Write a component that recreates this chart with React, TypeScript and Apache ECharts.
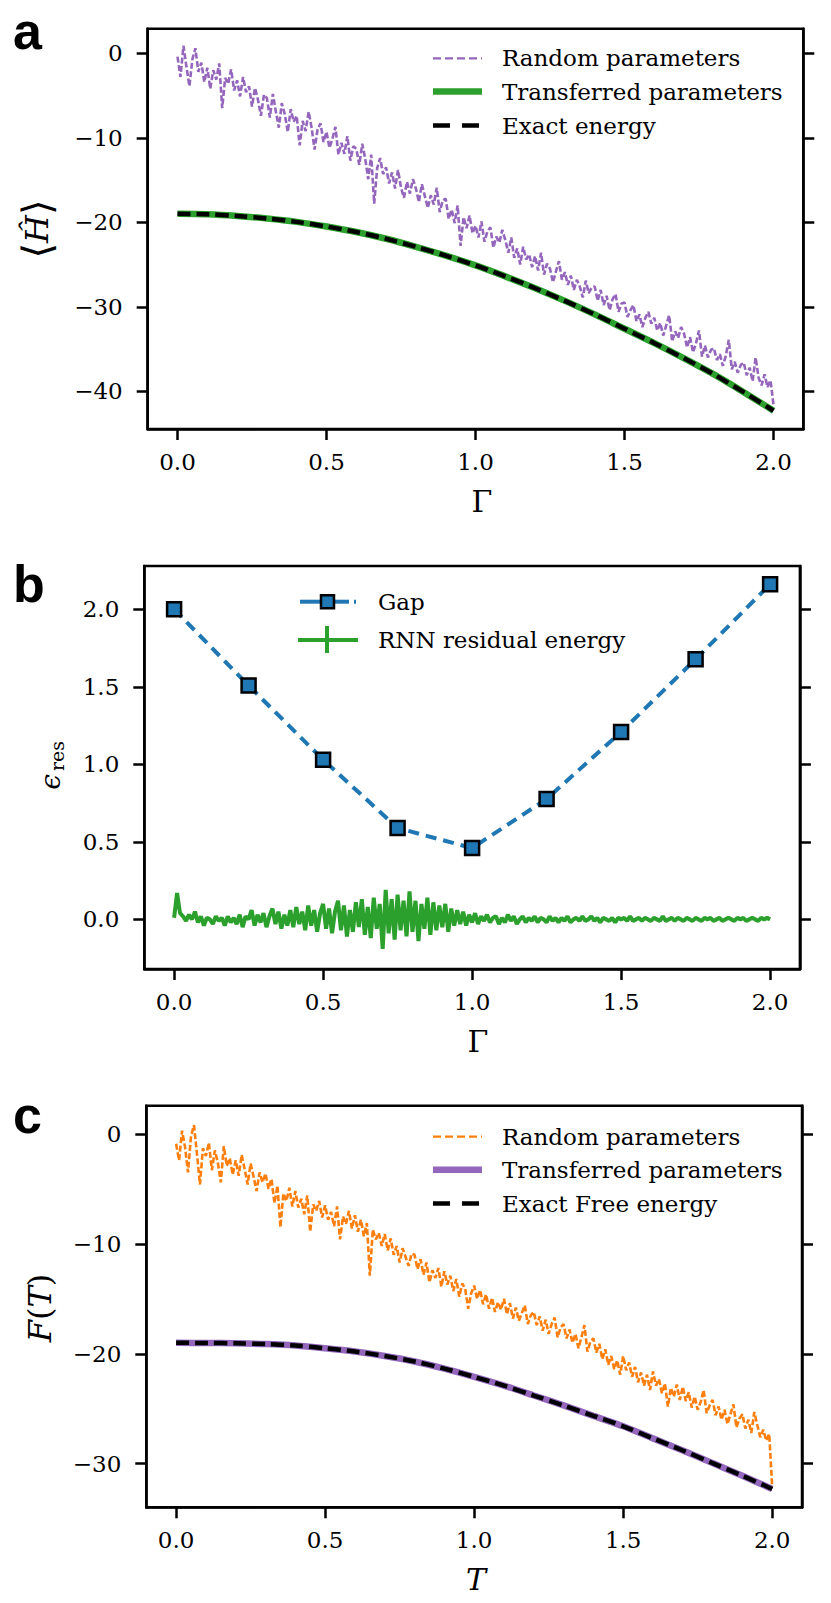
import React, { useEffect, useRef } from "react";
import * as echarts from "echarts";

// ---------- DATA ----------
const gammaCoarse = [0, 0.1, 0.2, 0.3, 0.4, 0.5, 0.6, 0.7, 0.8, 0.9, 1.0, 1.1, 1.2, 1.3, 1.4, 1.5, 1.6, 1.7, 1.8, 1.9, 2.0];

// panel a: random parameters (Γ = 0.00 … 2.00, step 0.01)
const randomA = [
  -0.4, -2.8, 0.9, -1.6, -3.9, -0.7, 0.6, -2.2, -1.1, -3.4,
  -1.7, -4.2, -2.0, -3.1, -1.2, -6.5, -2.9, -3.6, -1.9, -4.4,
  -3.2, -5.1, -2.8, -4.6, -3.9, -6.3, -4.1, -5.5, -7.4, -4.9,
  -5.3, -7.6, -4.8, -6.9, -8.8, -5.9, -7.2, -9.3, -6.6, -8.1,
  -7.4, -10.9, -8.0, -9.2, -6.9, -8.8, -11.4, -9.0, -8.3, -10.5,
  -9.3, -11.2, -10.1, -8.7, -12.0, -10.6, -11.9, -9.8, -12.7, -11.0,
  -11.3, -13.2, -10.7, -12.5, -14.9, -12.0, -17.8, -13.6, -12.4, -14.3,
  -13.5, -15.4, -14.1, -16.0, -13.8, -15.9, -17.1, -15.2, -16.6, -14.9,
  -16.0, -17.6, -15.5, -16.9, -18.3, -16.8, -17.9, -15.9, -18.8, -17.4,
  -17.2, -19.6, -18.5, -20.1, -18.0, -22.8, -19.4, -20.7, -19.2, -21.3,
  -20.4, -21.8, -19.9, -22.3, -21.1, -20.6, -23.0, -21.7, -22.4, -20.9,
  -22.1, -23.6, -21.8, -24.2, -23.1, -25.0, -22.9, -24.4, -23.8, -25.3,
  -24.0, -25.7, -23.6, -26.2, -24.9, -25.5, -27.1, -25.8, -24.6, -26.8,
  -25.9, -27.4, -26.3, -28.0, -26.8, -27.6, -28.9, -26.9, -28.4, -27.7,
  -27.6, -29.3, -28.0, -29.8, -28.7, -30.4, -29.1, -28.5, -30.6, -29.6,
  -29.5, -31.2, -30.4, -29.8, -31.7, -30.9, -32.4, -31.3, -30.6, -32.0,
  -31.3, -32.8, -31.9, -33.4, -32.2, -31.0, -34.1, -32.9, -33.7, -32.4,
  -33.2, -34.8, -33.6, -35.4, -34.3, -32.8, -35.9, -34.6, -36.0, -35.1,
  -34.9, -36.3, -35.6, -37.0, -35.8, -33.9, -37.4, -36.5, -37.8, -36.9,
  -36.6, -38.1, -37.2, -38.8, -36.0, -38.4, -39.3, -38.0, -39.5, -38.7,
  -41.6,
];
const transferredA = [-19.0, -19.05, -19.25, -19.55, -19.95, -20.5, -21.15, -21.95, -22.9, -23.95, -25.1, -26.4, -27.8, -29.3, -30.9, -32.6, -34.3, -36.1, -38.0, -40.1, -42.3];
const exactA = [-19.0, -19.05, -19.25, -19.55, -19.95, -20.5, -21.15, -21.95, -22.9, -23.95, -25.1, -26.4, -27.8, -29.3, -30.9, -32.6, -34.3, -36.1, -38.0, -40.1, -42.3];

// panel b
const gapGamma = [0, 0.25, 0.5, 0.75, 1.0, 1.25, 1.5, 1.75, 2.0];
const gapValues = [2.0, 1.508, 1.03, 0.589, 0.46, 0.776, 1.209, 1.678, 2.161];
const rnnResidual = [
  0.01, 0.17, 0.04, 0.02, -0.01, 0.03, 0.0, 0.05, -0.02, 0.02,
  -0.04, 0.01, 0.0, -0.03, 0.02, -0.01, 0.01, -0.04, 0.02, -0.02,
  0.01, -0.03, 0.03, -0.05, 0.02, 0.0, 0.06, -0.04, 0.03, -0.02,
  0.04, -0.05, 0.02, 0.07, -0.03, 0.05, -0.06, 0.03, -0.04, 0.06,
  -0.05, 0.08, -0.03, 0.05, -0.07, 0.09, -0.04, 0.06, -0.08, 0.04,
  0.1, -0.06, 0.07, -0.09, 0.05, 0.12, -0.07, 0.09, -0.11, 0.06,
  -0.08, 0.11, -0.05, 0.13, -0.1, 0.08, -0.12, 0.14, -0.06, 0.1,
  -0.19, 0.19, -0.09, 0.13, -0.13, 0.16, -0.07, 0.12, -0.11, 0.18,
  -0.08, 0.12, -0.14, 0.1, -0.06, 0.14, -0.1, 0.11, -0.07, 0.09,
  -0.05, 0.1, -0.08, 0.07, -0.04, 0.06, -0.03, 0.05, -0.04, 0.03,
  -0.02, 0.04, -0.03, 0.02, -0.01, 0.03, -0.02, 0.01, 0.02, -0.03,
  0.01, -0.02, 0.03, -0.01, 0.02, -0.03, 0.0, 0.02, -0.02, 0.01,
  -0.01, 0.02, -0.02, 0.01, 0.0, -0.02, 0.02, -0.01, 0.01, -0.02,
  0.01, -0.01, 0.02, -0.02, 0.0, 0.01, -0.01, 0.02, -0.01, 0.0,
  0.02, -0.01, 0.01, -0.02, 0.01, 0.0, -0.01, 0.01, -0.02, 0.01,
  0.0, 0.01, -0.01, 0.02, -0.01, 0.0, 0.01, -0.01, 0.01, 0.0,
  -0.01, 0.01, 0.0, -0.01, 0.02, -0.01, 0.0, 0.01, -0.01, 0.01,
  0.0, -0.01, 0.01, 0.0, -0.01, 0.01, 0.0, -0.01, 0.01, 0.0,
  0.01, -0.01, 0.0, 0.01, -0.01, 0.0, 0.01, 0.0, -0.01, 0.01,
  0.0, 0.01, -0.01, 0.0, 0.01, 0.0, -0.01, 0.01, 0.0, 0.01,
  0.0,
];

// panel c: random parameters (T = 0.00 … 2.00, step 0.01)
const randomC = [
  -0.9, -2.4, 0.3, -1.2, -3.5, -0.2, 0.8, -1.8, -4.6, -1.3,
  -2.0, -0.8, -3.3, -1.5, -2.6, -4.4, -1.1, -2.9, -2.2, -3.7,
  -2.4, -3.8, -1.9, -3.2, -4.6, -2.7, -3.9, -5.2, -3.5, -4.4,
  -3.6, -5.0, -4.1, -6.3, -4.7, -8.5, -5.4, -6.1, -4.9, -6.6,
  -5.2, -6.7, -5.9, -7.3, -5.6, -8.9, -6.4, -7.0, -6.1, -7.6,
  -6.5, -7.8, -7.1, -8.4, -6.6, -9.6, -7.5, -8.2, -7.0, -8.6,
  -7.4, -8.9, -7.8, -9.3, -8.1, -12.9, -8.7, -9.6, -9.0, -10.2,
  -9.1, -10.6, -9.5, -11.0, -10.2, -11.7, -10.4, -11.2, -12.0, -10.9,
  -11.0, -12.3, -11.4, -12.8, -11.7, -13.5, -12.4, -13.1, -12.2, -13.9,
  -12.5, -13.7, -12.9, -14.3, -13.2, -14.8, -13.6, -14.1, -15.9, -14.5,
  -13.8, -15.0, -14.2, -15.5, -14.6, -15.9, -14.9, -16.2, -15.3, -16.0,
  -15.0, -16.4, -15.4, -16.8, -15.8, -17.0, -16.3, -15.6, -17.3, -16.5,
  -16.2, -17.4, -16.6, -17.9, -16.9, -18.2, -17.3, -16.7, -18.5, -17.6,
  -17.3, -18.6, -17.8, -19.0, -18.2, -19.5, -18.5, -17.4, -19.8, -18.9,
  -18.6, -19.9, -19.1, -20.5, -19.6, -21.0, -20.2, -21.4, -20.6, -21.9,
  -20.2, -21.5, -20.8, -22.1, -21.2, -22.6, -21.7, -22.9, -21.9, -23.3,
  -21.6, -22.9, -22.3, -23.6, -22.7, -24.8, -23.1, -23.9, -22.8, -24.2,
  -23.0, -24.3, -23.5, -24.9, -23.9, -25.1, -24.4, -23.3, -25.4, -24.7,
  -24.2, -25.6, -24.8, -26.0, -25.1, -26.4, -25.5, -24.6, -26.7, -25.9,
  -25.5, -26.8, -26.0, -27.2, -25.3, -26.5, -27.6, -26.9, -27.9, -27.3,
  -32.1,
];
const transferredC = [-19.0, -19.02, -19.05, -19.12, -19.25, -19.5, -19.8, -20.2, -20.7, -21.35, -22.1, -22.9, -23.8, -24.7, -25.65, -26.6, -27.7, -28.8, -29.95, -31.1, -32.3];
const exactC = [-19.0, -19.02, -19.05, -19.12, -19.25, -19.5, -19.8, -20.2, -20.7, -21.35, -22.1, -22.9, -23.8, -24.7, -25.65, -26.6, -27.7, -28.8, -29.95, -31.1, -32.3];

const xTicks = [0, 0.5, 1.0, 1.5, 2.0];
const yTicksA = [-40, -30, -20, -10, 0];
const yTicksB = [0, 0.5, 1.0, 1.5, 2.0];
const yTicksC = [-30, -20, -10, 0];

// ---------- STYLE ----------
const SERIF = "DejaVu Serif";
const SANS = "Liberation Sans";
const C_PURPLE = "#9467bd";
const C_GREEN = "#2ca02c";
const C_BLUE = "#1f77b4";
const C_ORANGE = "#ff7f0e";
const LW = 2.5;
const TICK_FS = 23;

const pairs = (xs: number[], ys: number[]) => ys.map((y, i) => [xs[i], y]);
const fine = (ys: number[]) => ys.map((y, i) => [i / 100, y]);
const minusFmt = (v: number) => (v < 0 ? "\u2212" + Math.abs(v) : String(v));
const oneDec = (v: number) => v.toFixed(1);

const tickFont = { fontFamily: SERIF, fontStyle: "normal", fontWeight: "normal", fontSize: TICK_FS, color: "#000" };

function xAxis(gridIndex: number) {
  return {
    type: "value",
    gridIndex,
    min: -0.1,
    max: 2.1,
    axisLine: { show: true, onZero: false, lineStyle: { color: "#000", width: LW } },
    axisTick: { show: true, inside: false, length: 11, customValues: xTicks, lineStyle: { color: "#000", width: LW } },
    axisLabel: { customValues: xTicks, formatter: oneDec, ...tickFont, margin: 21 },
    splitLine: { show: false },
  };
}
function yAxes(gridIndex: number, min: number, max: number, ticks: number[], fmt: (v: number) => string) {
  const common = {
    type: "value",
    gridIndex,
    min,
    max,
    splitLine: { show: false },
    axisLine: { show: true, onZero: false, lineStyle: { color: "#000", width: LW } },
    axisTick: { show: true, inside: false, length: 11, customValues: ticks, lineStyle: { color: "#000", width: LW } },
  };
  return [
    { ...common, position: "left", axisLabel: { customValues: ticks, formatter: fmt, ...tickFont, margin: 25 } },
    { ...common, position: "right", axisLabel: { show: false } },
  ];
}

function legendLine(x1: number, x2: number, y: number, color: string, width: number, dash?: number[]) {
  return { type: "line", shape: { x1, y1: y, x2, y2: y }, style: { stroke: color, lineWidth: width, lineDash: dash } };
}
function legendText(x: number, y: number, text: string) {
  return {
    type: "text", x, y,
    style: { text, fontFamily: SERIF, fontStyle: "normal", fontWeight: "normal", fontSize: 23, fill: "#000", align: "left", verticalAlign: "middle", textAlign: "left", textVerticalAlign: "middle" },
  };
}
function panelLabel(x: number, y: number, text: string) {
  return {
    type: "text", x, y,
    style: { text, fontFamily: SANS, fontStyle: "normal", fontWeight: "bold", fontSize: 52, fill: "#000", align: "left", verticalAlign: "middle", textAlign: "left", textVerticalAlign: "middle" },
  };
}
function centerText(x: number, y: number, text: string, fontSize: number, italic: boolean, rotation = 0) {
  return {
    type: "text", x, y, rotation,
    style: { text, fontFamily: SERIF, fontSize, fontWeight: "normal", fontStyle: italic ? "italic" : "normal", fill: "#000", align: "center", verticalAlign: "middle", textAlign: "center", textVerticalAlign: "middle" },
  };
}

export default function App() {
  const ref = useRef<HTMLDivElement>(null);
  useEffect(() => {
    document.body.style.margin = "0";
    if (!ref.current) return;
    const chart = echarts.init(ref.current, undefined, { renderer: "svg" });
    const grids = [
      { left: 147.7, top: 28.7, width: 655.6, height: 400.3 },
      { left: 144.3, top: 566, width: 655.6, height: 403 },
      { left: 146.3, top: 1105.7, width: 655.7, height: 401.6 },
    ].map((g) => ({ ...g, show: true, borderColor: "#000", borderWidth: LW, backgroundColor: "#fff", containLabel: false }));

    const yA = yAxes(0, -44.46, 2.91, yTicksA, minusFmt);
    const yB = yAxes(1, -0.32, 2.279, yTicksB, oneDec);
    const yC = yAxes(2, -33.97, 2.57, yTicksC, minusFmt);

    const option: any = {
      animation: false,
      backgroundColor: "#fff",
      textStyle: { fontFamily: SERIF },
      grid: grids,
      xAxis: [xAxis(0), xAxis(1), xAxis(2)],
      yAxis: [...yA, ...yB, ...yC],
      series: [
        // panel a
        { type: "line", xAxisIndex: 0, yAxisIndex: 0, data: fine(randomA), showSymbol: false, lineStyle: { color: C_PURPLE, width: 2.6, type: [6, 2.5] } },
        { type: "line", xAxisIndex: 0, yAxisIndex: 0, data: pairs(gammaCoarse, transferredA), smooth: 0.3, showSymbol: false, lineStyle: { color: C_GREEN, width: 6.5 } },
        { type: "line", xAxisIndex: 0, yAxisIndex: 0, data: pairs(gammaCoarse, exactA), smooth: 0.3, showSymbol: false, lineStyle: { color: "#000", width: 4.5, type: [13, 6] } },
        // panel b
        { type: "line", xAxisIndex: 1, yAxisIndex: 2, data: fine(rnnResidual), showSymbol: false, lineStyle: { color: C_GREEN, width: 4 } },
        {
          type: "line", xAxisIndex: 1, yAxisIndex: 2, data: pairs(gapGamma, gapValues), symbol: "rect", symbolSize: 14, showSymbol: true,
          lineStyle: { color: C_BLUE, width: 4, type: [11, 7] },
          itemStyle: { color: C_BLUE, borderColor: "#000", borderWidth: 2.5 },
        },
        // panel c
        { type: "line", xAxisIndex: 2, yAxisIndex: 4, data: fine(randomC), showSymbol: false, lineStyle: { color: C_ORANGE, width: 2.6, type: [6, 2.5] } },
        { type: "line", xAxisIndex: 2, yAxisIndex: 4, data: pairs(gammaCoarse, transferredC), smooth: 0.3, showSymbol: false, lineStyle: { color: C_PURPLE, width: 6.5 } },
        { type: "line", xAxisIndex: 2, yAxisIndex: 4, data: pairs(gammaCoarse, exactC), smooth: 0.3, showSymbol: false, lineStyle: { color: "#000", width: 4.5, type: [13, 6] } },
      ],
      graphic: [
        // panel labels
        panelLabel(13, 31, "a"),
        panelLabel(13, 584, "b"),
        panelLabel(13, 1115, "c"),
        // legend a
        legendLine(433, 482, 58.3, C_PURPLE, 2.2, [8, 4]),
        legendText(502, 58.3, "Random parameters"),
        legendLine(433, 482, 91.5, C_GREEN, 6.5),
        legendText(502, 91.5, "Transferred parameters"),
        legendLine(433, 482, 125.5, "#000", 4.5, [17, 12]),
        legendText(502, 125.5, "Exact energy"),
        // legend b
        legendLine(300, 323, 601.7, C_BLUE, 4),
        legendLine(332, 349, 601.7, C_BLUE, 4),
        legendLine(354, 356, 601.7, C_BLUE, 4),
        { type: "rect", shape: { x: 321, y: 595.2, width: 13, height: 13 }, style: { fill: C_BLUE, stroke: "#000", lineWidth: 2.5 } },
        legendText(378, 601.7, "Gap"),
        legendLine(298, 358, 640, C_GREEN, 4),
        { type: "line", shape: { x1: 327, y1: 626, x2: 327, y2: 653 }, style: { stroke: C_GREEN, lineWidth: 4 } },
        legendText(378, 640, "RNN residual energy"),
        // legend c
        legendLine(433, 482, 1136.7, C_ORANGE, 2.2, [8, 4]),
        legendText(502, 1136.7, "Random parameters"),
        legendLine(433, 482, 1169.7, C_PURPLE, 6.5),
        legendText(502, 1169.7, "Transferred parameters"),
        legendLine(433, 482, 1203.5, "#000", 4.5, [17, 12]),
        legendText(502, 1203.5, "Exact Free energy"),
        // axis names
        centerText(482, 501, "\u0393", 30, false),
        centerText(478, 1041, "\u0393", 30, false),
        centerText(476, 1579, "T", 30, true),
        {
          type: "text", x: 37, y: 229, rotation: Math.PI / 2,
          style: {
            text: "{n|\u27E8}{i|\u0124}{n|\u27E9}", align: "center", verticalAlign: "middle", textAlign: "center", textVerticalAlign: "middle",
            rich: {
              n: { fontFamily: SERIF, fontSize: 40, fontStyle: "normal", fill: "#000" },
              i: { fontFamily: SERIF, fontSize: 32, fontStyle: "italic", fill: "#000" },
            },
          },
        },
        centerText(50, 782, "\u03F5", 28, true, Math.PI / 2),
        centerText(57, 756, "res", 19, false, Math.PI / 2),
        {
          type: "text", x: 40, y: 1308, rotation: Math.PI / 2,
          style: {
            text: "{i|F}{n|(}{i|T}{n|)}", align: "center", verticalAlign: "middle", textAlign: "center", textVerticalAlign: "middle",
            rich: {
              n: { fontFamily: SERIF, fontSize: 32, fontStyle: "normal", fill: "#000" },
              i: { fontFamily: SERIF, fontSize: 32, fontStyle: "italic", fill: "#000" },
            },
          },
        },
      ],
    };
    chart.setOption(option);
    return () => chart.dispose();
  }, []);
  return <div ref={ref} style={{ width: 831, height: 1603 }} />;
}
